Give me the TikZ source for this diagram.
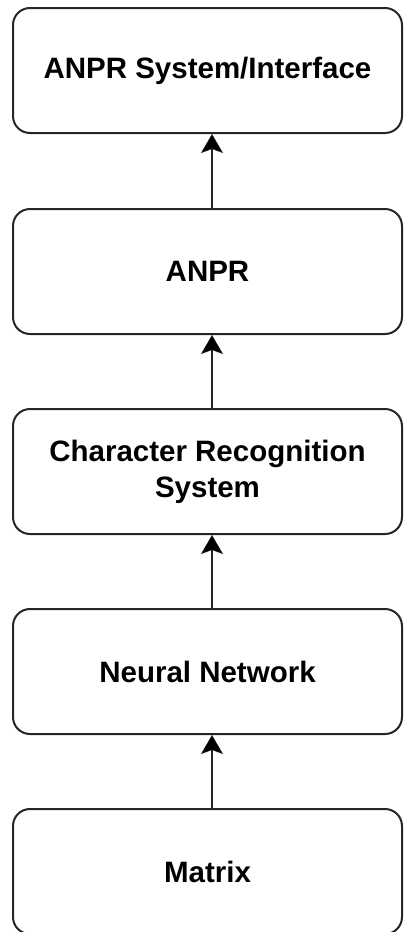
\documentclass[tikz,border=0pt]{standalone}
\usepackage{fontspec}
\setmainfont{Liberation Sans}
\usetikzlibrary{arrows.meta}
\begin{document}
\begin{tikzpicture}[x=1pt,y=1pt,
  stage/.style={draw=black!85, line width=2pt, rounded corners=17pt,
    minimum width=389pt, minimum height=125pt, align=center,
    font=\fontsize{29.5}{36}\selectfont\bfseries, inner sep=0pt},
  flow/.style={draw=black!85, line width=2pt,
    -{Stealth[length=19pt,width=22pt,inset=4pt,fill=black,line width=0.5pt]}}]
  \useasboundingbox (0,0) rectangle (404,-932);
  % stages, bottom to top: Matrix -> ... -> ANPR System/Interface
  \node[stage] (ui)     at (207.5,-70.5)  {ANPR System/Interface};
  \node[stage] (anpr)   at (207.5,-271.5) {ANPR};
  \node[stage] (crs)    at (207.5,-471.5) {Character Recognition\\System};
  \node[stage] (nn)     at (207.5,-671.5) {Neural Network};
  \node[stage] (matrix) at (207.5,-871.5) {Matrix};
  % upward data flow
  \draw[flow] ([xshift=4.5pt]matrix.north) -- ([xshift=4.5pt]nn.south);
  \draw[flow] ([xshift=4.5pt]nn.north) -- ([xshift=4.5pt]crs.south);
  \draw[flow] ([xshift=4.5pt]crs.north) -- ([xshift=4.5pt]anpr.south);
  \draw[flow] ([xshift=4.5pt]anpr.north) -- ([xshift=4.5pt]ui.south);
\end{tikzpicture}
\end{document}
